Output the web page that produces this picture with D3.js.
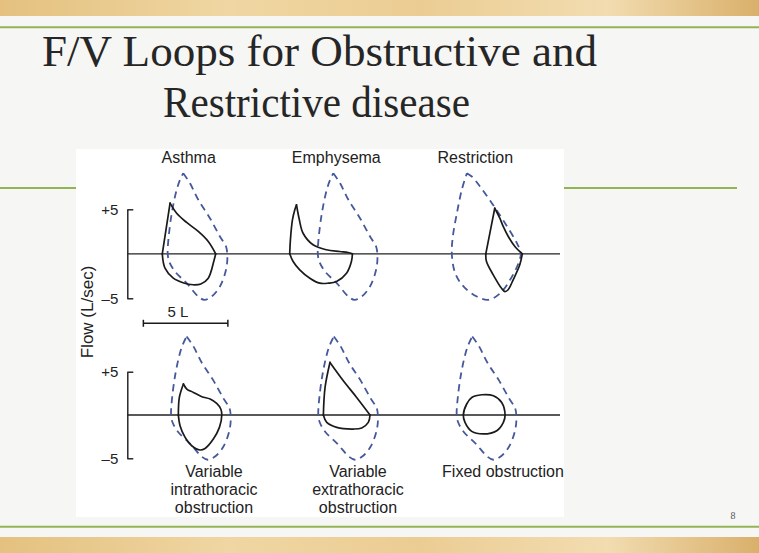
<!DOCTYPE html>
<html>
<head>
<meta charset="utf-8">
<script src="https://cdn.jsdelivr.net/npm/d3@7"></script>
<style>
  body { margin: 0; background: #f6f6f4; }
  svg { display: block; }
</style>
</head>
<body>
<svg id="chart"></svg>
<script>
// flow-volume loops: volume in L (relative to the panel's normal TLC), flow in L/sec

var topTitles = ["Asthma", "Emphysema", "Restriction"];
var bottomTitles = [["Variable", "intrathoracic", "obstruction"],
                    ["Variable", "extrathoracic", "obstruction"],
                    ["Fixed obstruction"]];
var flowTicks = [-5, 5];

// volume where each panel's normal loop starts (L along the row)
var topNormalStart = [2.39, 11.27, 19.2];
var bottomNormalStart = [2.59, 11.3, 19.49];

// normal (predicted) loop, starts and ends at peak flow
var normalLoop = [[0.92, 9.06], [1.32, 7.93], [1.81, 6.07], [2.5, 4.0], [3.09, 1.94], [3.45, 0.82],
  [3.53, -0.3], [3.45, -1.8], [3.09, -3.67], [2.6, -4.8], [2.17, -5.17], [1.81, -4.8],
  [1.12, -3.3], [0.43, -1.99], [0.09, -0.87], [0, 0], [0.04, 1.57], [0.24, 4.56],
  [0.53, 7.19], [0.73, 8.31], [0.92, 9.06]];

var restrictionNormal = [[0.89, 9.06], [1.18, 8.69], [1.67, 7.56], [2.37, 5.69], [3.15, 3.44],
  [3.85, 1.19], [4.08, 0.07], [3.94, -1.06], [3.45, -2.92], [2.86, -4.43], [2.17, -5.17],
  [1.48, -4.8], [0.69, -3.67], [0.2, -2.18], [0, 0], [0.06, 1.94], [0.3, 4.56],
  [0.59, 7.19], [0.89, 9.06]];

// patient loops, split into limbs: rise to peak, expiratory descent, inspiration
var asthmaLoop = [
  [[-0.32, 0], [0.14, 5.69]],
  [[0.14, 5.69], [0.53, 4.56], [1.12, 3.52], [1.81, 2.51], [2.4, 1.38], [2.84, 0]],
  [[2.84, 0], [2.74, -0.75], [2.4, -2.74], [1.96, -3.39], [1.5, -3.48], [0.95, -3.28],
   [0.33, -2.74], [-0.16, -1.62], [-0.32, 0]]
];

var emphysemaLoop = [
  [[-1.66, 0], [-1.62, 1.57], [-1.5, 3.82], [-1.36, 4.94], [-1.26, 5.51]],
  [[-1.26, 5.51], [-1.11, 4.0], [-0.87, 2.31], [-0.28, 1.01], [0.51, 0.45], [1.3, 0.26],
   [1.79, 0.15], [2.05, 0]],
  [[2.05, 0], [1.99, -0.87], [1.7, -2.18], [1.11, -3.11], [0.62, -3.3], [0.12, -3.3],
   [-0.47, -2.74], [-1.07, -1.8], [-1.46, -0.87], [-1.66, 0]]
];

var restrictionLoop = [
  [[2.01, 0], [2.54, 5.12]],
  [[2.54, 5.12], [2.84, 4.0], [3.04, 3.07], [3.34, 1.94], [3.73, 0.82], [4.17, 0]],
  [[4.17, 0], [4.02, -1.24], [3.63, -2.92], [3.33, -4.04], [3.14, -4.24], [2.94, -3.87],
   [2.45, -2.36], [2.05, -0.87], [2.01, 0]]
];

var intrathoracicLoop = [
  [[0.43, 0], [0.49, 2.03], [0.73, 3.58]],
  [[0.73, 3.58], [0.93, 3.0], [1.32, 2.61], [1.82, 2.11], [2.31, 1.85], [2.7, 1.34],
   [2.94, 0.69], [3.0, 0], [2.86, -1.43], [2.5, -2.77], [2.01, -3.86], [1.72, -4.04],
   [1.22, -3.55], [0.83, -2.59], [0.53, -1.24], [0.43, 0]]
];

var extrathoracicLoop = [
  [[0.3, 0], [0.4, 3.19], [0.69, 6.07]],
  [[0.69, 6.07], [1.48, 3.96], [2.27, 2.03], [3.06, 0]],
  [[3.06, 0], [2.96, -0.85], [2.57, -1.5], [2.07, -1.62], [1.09, -1.43], [0.5, -0.85], [0.3, 0]]
];

var fixedLoop = [[0.39, 0], [0.59, 1.27], [0.89, 2.03], [1.48, 2.34], [2.17, 2.23], [2.66, 1.45],
  [2.86, 0], [2.76, -0.85], [2.37, -1.81], [1.58, -2.19], [0.89, -1.89], [0.49, -0.85]];

var scaleBarStart = 0.95;
var scaleBarLength = 5;

document.addEventListener("DOMContentLoaded", function() {

  var width = 759;
  var height = 553;

  var svg = d3.select("#chart")
      .attr("width", width)
      .attr("height", height);

  // slide decoration
  var defs = svg.append("defs");
  var grad = defs.append("linearGradient").attr("id", "tan");
  [["0%", "#e4c17f"], ["30%", "#efd6a2"], ["55%", "#ebcd93"], ["80%", "#f2dcb0"], ["100%", "#d9b06b"]]
    .forEach(function(s) { grad.append("stop").attr("offset", s[0]).attr("stop-color", s[1]); });

  svg.append("rect").attr("width", width).attr("height", height).attr("fill", "#f6f6f4");
  svg.append("rect").attr("width", width).attr("height", 16).attr("fill", "url(#tan)");
  svg.append("rect").attr("y", 537).attr("width", width).attr("height", 16).attr("fill", "url(#tan)");

  [27.3, 526.7].forEach(function(y) {
    svg.append("line").attr("x1", 0).attr("x2", width).attr("y1", y).attr("y2", y)
      .attr("stroke", "#94b454").attr("stroke-width", 2);
  });
  svg.append("line").attr("x1", 0).attr("x2", 737).attr("y1", 188).attr("y2", 188)
    .attr("stroke", "#94b454").attr("stroke-width", 2);

  svg.append("text")
      .text("F/V Loops for Obstructive and")
      .attr("x", 42).attr("y", 66)
      .attr("textLength", 555).attr("lengthAdjust", "spacingAndGlyphs")
      .style("font-family", "'Liberation Serif', serif")
      .style("font-size", "45px")
      .style("fill", "#262626");

  svg.append("text")
      .text("Restrictive disease")
      .attr("x", 163).attr("y", 117)
      .attr("textLength", 307).attr("lengthAdjust", "spacingAndGlyphs")
      .style("font-family", "'Liberation Serif', serif")
      .style("font-size", "45px")
      .style("fill", "#262626");

  svg.append("text")
      .text("8")
      .attr("x", 733).attr("y", 519)
      .style("text-anchor", "middle")
      .style("font-family", "'Liberation Serif', serif")
      .style("font-size", "10px")
      .style("fill", "#555");

  // the figure
  svg.append("rect")
      .attr("x", 76).attr("y", 149)
      .attr("width", 488).attr("height", 368)
      .attr("fill", "#ffffff");

  var xScale = d3.scaleLinear().domain([0, 25.6]).range([127.3, 560]);
  var yTop = d3.scaleLinear().domain([-5, 5]).range([298.3, 209.3]);
  var yBottom = d3.scaleLinear().domain([-5, 5]).range([458.3, 371.7]);

  var font = "'Liberation Sans', Arial, sans-serif";

  function drawAxis(y) {
    var axis = d3.axisLeft(y)
        .tickValues(flowTicks)
        .tickSizeInner(-6)
        .tickSizeOuter(0)
        .tickPadding(9)
        .tickFormat(function(d) { return d > 0 ? "+" + d : "\u2013" + Math.abs(d); });

    var g = svg.append("g")
        .attr("transform", "translate(" + xScale(0) + ",0)")
        .call(axis);
    g.select(".domain").attr("stroke", "#1a1a1a").attr("stroke-width", 1.4);
    g.selectAll(".tick line").attr("stroke", "#1a1a1a").attr("stroke-width", 1.4);
    g.selectAll(".tick text")
        .style("font-family", font)
        .style("font-size", "15px")
        .attr("fill", "#222");

    svg.append("line")
        .attr("x1", xScale(0)).attr("x2", xScale(25.6))
        .attr("y1", y(0)).attr("y2", y(0))
        .attr("stroke", "#222").attr("stroke-width", 1.3);
  }

  drawAxis(yTop);
  drawAxis(yBottom);

  svg.append("text")
      .text("Flow (L/sec)")
      .attr("transform", "translate(93, 312) rotate(-90)")
      .style("text-anchor", "middle")
      .style("font-family", font)
      .style("font-size", "17px")
      .style("fill", "#222");

  // 5 L scale bar
  var sb = svg.append("g").attr("stroke", "#1a1a1a").attr("stroke-width", 1.5);
  var sbY = 323.3;
  sb.append("line")
      .attr("x1", xScale(scaleBarStart)).attr("x2", xScale(scaleBarStart + scaleBarLength))
      .attr("y1", sbY).attr("y2", sbY);
  [scaleBarStart, scaleBarStart + scaleBarLength].forEach(function(v) {
    sb.append("line").attr("x1", xScale(v)).attr("x2", xScale(v))
      .attr("y1", sbY - 3.5).attr("y2", sbY + 3.5);
  });
  svg.append("text")
      .text("5 L")
      .attr("x", 178).attr("y", 316.5)
      .style("text-anchor", "middle")
      .style("font-family", font)
      .style("font-size", "15px")
      .style("fill", "#222");

  // panel titles
  var topTitleX = [188.7, 336.3, 475.3];
  topTitles.forEach(function(t, i) {
    svg.append("text").text(t)
      .attr("x", topTitleX[i]).attr("y", 163)
      .style("text-anchor", "middle")
      .style("font-family", font)
      .style("font-size", "16px")
      .style("fill", "#222");
  });

  var bottomTitleX = [214, 358, 503];
  bottomTitles.forEach(function(lines, i) {
    lines.forEach(function(t, j) {
      svg.append("text").text(t)
        .attr("x", bottomTitleX[i]).attr("y", 476.7 + j * 18)
        .style("text-anchor", "middle")
        .style("font-family", font)
        .style("font-size", "16px")
        .style("fill", "#222");
    });
  });

  // loops
  function loopLine(y, start, curve) {
    return d3.line()
        .x(function(d) { return xScale(start + d[0]); })
        .y(function(d) { return y(d[1]); })
        .curve(curve);
  }

  function drawNormal(points, start, y) {
    svg.append("path")
        .attr("d", loopLine(y, start, d3.curveCatmullRom.alpha(0.5))(points))
        .attr("fill", "none")
        .attr("stroke", "#45589b")
        .attr("stroke-width", 1.8)
        .attr("stroke-dasharray", "7,5");
  }

  function drawPatient(segments, start, y) {
    segments.forEach(function(seg) {
      svg.append("path")
          .attr("d", loopLine(y, start, d3.curveCatmullRom.alpha(0.5))(seg))
          .attr("fill", "none")
          .attr("stroke", "#1a1a1a")
          .attr("stroke-width", 1.7)
          .attr("stroke-linecap", "round")
          .attr("stroke-linejoin", "round");
    });
  }

  drawNormal(normalLoop, topNormalStart[0], yTop);
  drawNormal(normalLoop, topNormalStart[1], yTop);
  drawNormal(restrictionNormal, topNormalStart[2], yTop);
  drawNormal(normalLoop, bottomNormalStart[0], yBottom);
  drawNormal(normalLoop, bottomNormalStart[1], yBottom);
  drawNormal(normalLoop, bottomNormalStart[2], yBottom);

  drawPatient(asthmaLoop, topNormalStart[0], yTop);
  drawPatient(emphysemaLoop, topNormalStart[1], yTop);
  drawPatient(restrictionLoop, topNormalStart[2], yTop);
  drawPatient(intrathoracicLoop, bottomNormalStart[0], yBottom);
  drawPatient(extrathoracicLoop, bottomNormalStart[1], yBottom);

  svg.append("path")
      .attr("d", loopLine(yBottom, bottomNormalStart[2], d3.curveCatmullRomClosed.alpha(0.5))(fixedLoop))
      .attr("fill", "none")
      .attr("stroke", "#1a1a1a")
      .attr("stroke-width", 1.7);
});
</script>
</body>
</html>
